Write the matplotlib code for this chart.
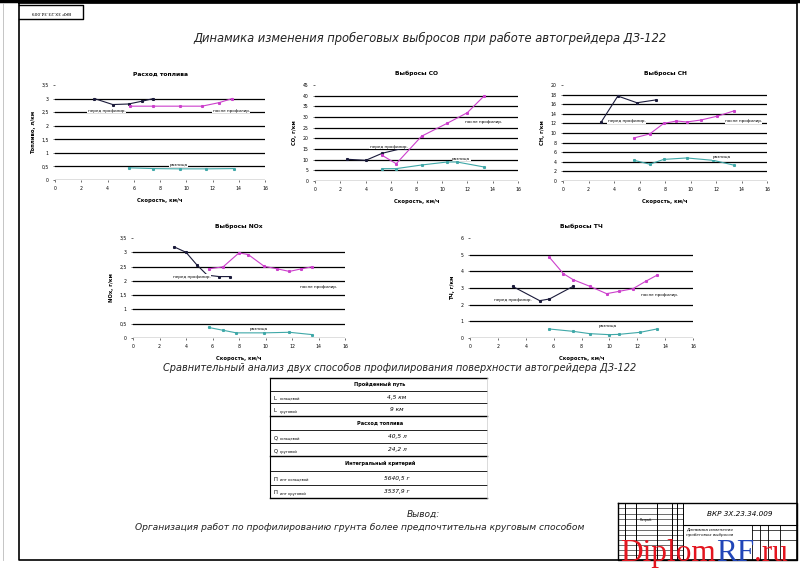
import matplotlib
matplotlib.use('Agg')
import matplotlib.pyplot as plt
import numpy as np

plt.rcParams['font.family'] = ['DejaVu Sans']

W, H = 800, 569

# --- данные графиков (скорость, км/ч) ---
speed_ticks = [0, 2, 4, 6, 8, 10, 12, 14, 16]

fuel_before_x = [3.0, 4.4, 5.6, 6.6, 7.5]
fuel_before_y = [3.0, 2.78, 2.8, 2.9, 3.0]
fuel_after_x = [5.7, 7.5, 9.5, 11.2, 12.5, 13.5]
fuel_after_y = [2.72, 2.72, 2.72, 2.72, 2.85, 3.0]
fuel_diff_x = [5.6, 7.5, 9.5, 11.5, 13.6]
fuel_diff_y = [0.45, 0.42, 0.41, 0.41, 0.42]
fuel_yticks = [0, 0.5, 1, 1.5, 2, 2.5, 3, 3.5]

co_before_x = [2.5, 4.0, 5.3, 7.1]
co_before_y = [10.2, 9.7, 13.0, 15.6]
co_after_x = [5.3, 6.4, 8.4, 10.4, 12.0, 13.3]
co_after_y = [12.0, 8.1, 21.0, 27.0, 32.0, 39.7]
co_diff_x = [5.3, 6.4, 8.4, 10.4, 11.2, 13.3]
co_diff_y = [5.8, 5.8, 7.5, 8.9, 8.9, 6.6]
co_yticks = [0, 5, 10, 15, 20, 25, 30, 35, 40, 45]

ch_before_x = [3.0, 4.3, 5.8, 7.3]
ch_before_y = [12.3, 17.7, 16.3, 16.9]
ch_after_x = [5.6, 6.8, 7.9, 8.9, 9.7, 10.8, 12.1, 13.4]
ch_after_y = [9.0, 9.8, 12.0, 12.5, 12.3, 12.7, 13.5, 14.6]
ch_diff_x = [5.6, 6.8, 7.9, 9.7, 11.8, 13.4]
ch_diff_y = [4.3, 3.5, 4.5, 4.8, 4.3, 3.3]
ch_yticks = [0, 2, 4, 6, 8, 10, 12, 14, 16, 18, 20]

nox_before_x = [3.1, 4.0, 4.8, 5.6, 6.5, 7.3]
nox_before_y = [3.19, 3.0, 2.57, 2.2, 2.15, 2.15]
nox_after_x = [5.7, 6.8, 8.0, 8.7, 9.9, 10.9, 11.8, 12.7, 13.5]
nox_after_y = [2.42, 2.49, 2.98, 2.92, 2.51, 2.42, 2.33, 2.42, 2.49]
nox_diff_x = [5.7, 6.8, 7.8, 9.9, 11.8, 13.5]
nox_diff_y = [0.37, 0.27, 0.18, 0.18, 0.2, 0.12]
nox_yticks = [0, 0.5, 1, 1.5, 2, 2.5, 3, 3.5]

pm_before_x = [3.05, 5.0, 5.7, 7.4]
pm_before_y = [3.1, 2.24, 2.34, 3.1]
pm_after_x = [5.7, 6.7, 7.4, 8.6, 9.8, 10.7, 11.7, 12.6, 13.4]
pm_after_y = [4.84, 3.86, 3.5, 3.1, 2.66, 2.8, 2.96, 3.4, 3.76]
pm_diff_x = [5.7, 7.4, 8.6, 10.0, 10.7, 12.2, 13.4]
pm_diff_y = [0.54, 0.4, 0.26, 0.2, 0.22, 0.34, 0.54]
pm_yticks = [0, 1, 2, 3, 4, 5, 6]

# --- таблица ---
tbl_rows = [
    ('h', 'Пройденный путь', '', ''),
    ('r', 'L', 'кольцевой', '4,5 км'),
    ('r', 'L', 'круговой', '9 км'),
    ('h', 'Расход топлива', '', ''),
    ('r', 'Q', 'кольцевой', '40,5 л'),
    ('r', 'Q', 'круговой', '24,2 л'),
    ('h', 'Интегральный критерий', '', ''),
    ('r', 'П', 'инт кольцевой', '5640,5 г'),
    ('r', 'П', 'инт круговой', '3537,9 г'),
]
tbl_lines = [378, 391, 403, 416, 430, 443, 456, 471, 485, 498]

C_BLACK = '#1a1a3a'
C_MAG = '#cc3fcc'
C_CYAN = '#3fa8a8'

fig = plt.figure(figsize=(W / 100, H / 100), dpi=100)
bg = fig.add_axes([0, 0, 1, 1])
bg.set_xlim(0, W)
bg.set_ylim(H, 0)
bg.axis('off')

# рамка листа
bg.plot([0, W], [1, 1], color='black', lw=2.5)
bg.plot([19, 797, 797, 19, 19], [3, 3, 560, 560, 3], color='black', lw=1.2)
bg.plot([3, 3], [3, 560], color='#bbbbbb', lw=0.6)
bg.plot([19, 83, 83, 19], [5, 5, 19, 19], color='black', lw=1.0)
bg.text(51, 12, 'ВКР 3Х.23.34.009', fontsize=3.2, ha='center', va='center', rotation=180)

bg.text(430, 38, 'Динамика изменения пробеговых выбросов при работе автогрейдера ДЗ-122',
        fontsize=8.3, style='italic', ha='center', va='center', color='#222222')
bg.text(400, 368, 'Сравнительный анализ двух способов профилирования поверхности автогрейдера ДЗ-122',
        fontsize=7.0, style='italic', ha='center', va='center', color='#222222')
bg.text(423, 514, 'Вывод:', fontsize=6.5, style='italic', ha='center', va='center', color='#222222')
bg.text(360, 528, 'Организация работ по профилированию грунта более предпочтительна круговым способом',
        fontsize=6.6, style='italic', ha='center', va='center', color='#222222')


def chart(box, title, ylabel, yticks, series, labels):
    x0, x1, y0, y1 = box
    ax = fig.add_axes([x0 / W, 1 - y1 / H, (x1 - x0) / W, (y1 - y0) / H])
    ax.set_xlim(0, 16)
    ax.set_ylim(yticks[0], yticks[-1])
    for v in yticks[:-1]:
        ax.axhline(v, color='black', lw=0.9, zorder=1)
    for s in ax.spines.values():
        s.set_visible(False)
    ax.set_xticks(speed_ticks)
    ax.set_xticklabels([str(t) for t in speed_ticks])
    ax.set_yticks(yticks)
    ax.set_yticklabels([f'{v:g}'.replace('.', ',') for v in yticks])
    ax.tick_params(labelsize=3.3, length=1.5, width=0.4, pad=3)
    ax.set_title(title, fontsize=4.3, fontweight='bold', pad=7)
    ax.set_xlabel('Скорость, км/ч', fontsize=3.8, fontweight='bold', labelpad=5)
    ax.set_ylabel(ylabel, fontsize=3.8, fontweight='bold', labelpad=4)
    for (xs, ys), c in zip(series, [C_BLACK, C_MAG, C_CYAN]):
        ax.plot(xs, ys, color=c, lw=0.8, marker='s', ms=1.2, zorder=3)
    for (tx, ty, txt) in labels:
        ax.text(tx, ty, txt, fontsize=3.0, ha='left', va='center', zorder=4,
                bbox=dict(facecolor='white', edgecolor='none', pad=0.3))
    return ax


chart((55, 265, 85, 180), 'Расход топлива', 'Топливо, л/км', fuel_yticks,
      [(fuel_before_x, fuel_before_y), (fuel_after_x, fuel_after_y), (fuel_diff_x, fuel_diff_y)],
      [(2.5, 2.55, 'перед профилир.'), (12.0, 2.55, 'после профилир.'), (8.7, 0.55, 'разница')])

chart((315, 518, 85, 181), 'Выбросы СО', 'СО, г/км', co_yticks,
      [(co_before_x, co_before_y), (co_after_x, co_after_y), (co_diff_x, co_diff_y)],
      [(4.3, 16.0, 'перед профилир.'), (11.8, 27.5, 'после профилир.'), (10.8, 10.3, 'разница')])

chart((563, 767, 85, 181), 'Выбросы СН', 'СН, г/км', ch_yticks,
      [(ch_before_x, ch_before_y), (ch_after_x, ch_after_y), (ch_diff_x, ch_diff_y)],
      [(3.5, 12.4, 'перед профилир.'), (12.7, 12.4, 'после профилир.'), (11.7, 4.9, 'разница')])

chart((133, 345, 238, 338), 'Выбросы NOx', 'NOx, г/км', nox_yticks,
      [(nox_before_x, nox_before_y), (nox_after_x, nox_after_y), (nox_diff_x, nox_diff_y)],
      [(3.0, 2.15, 'перед профилир.'), (12.6, 1.8, 'после профилир.'), (8.8, 0.33, 'разница')])

chart((470, 693, 238, 338), 'Выбросы ТЧ', 'ТЧ, г/км', pm_yticks,
      [(pm_before_x, pm_before_y), (pm_after_x, pm_after_y), (pm_diff_x, pm_diff_y)],
      [(1.7, 2.3, 'перед профилир.'), (12.3, 2.6, 'после профилир.'), (9.2, 0.7, 'разница')])

# таблица сравнения
tl, tr = 270, 487
for i, yl in enumerate(tbl_lines):
    lw = 1.0 if i in (0, 3, 6, 9) else 0.6
    bg.plot([tl, tr], [yl, yl], color='black', lw=lw)
bg.plot([tl, tl], [tbl_lines[0], tbl_lines[-1]], color='black', lw=0.8)
bg.plot([tr, tr], [tbl_lines[0], tbl_lines[-1]], color='#cccccc', lw=0.5)
for (kind, a, sub, val), ya, yb in zip(tbl_rows, tbl_lines[:-1], tbl_lines[1:]):
    ym = (ya + yb) / 2
    if kind == 'h':
        bg.text(380, ym, a, fontsize=3.6, fontweight='bold', ha='center', va='center')
    else:
        bg.text(274, ym + 1, a, fontsize=3.8, ha='left', va='center')
        bg.text(280, ym + 2.5, sub, fontsize=2.6, ha='left', va='center')
        bg.text(397, ym, val, fontsize=4.2, style='italic', ha='center', va='center')

# основная надпись
bx0, bx1, by0, by1 = 618, 797, 503, 560
bg.plot([bx0, bx1, bx1, bx0, bx0], [by0, by0, by1, by1, by0], color='black', lw=1.0)
bg.plot([683, bx1], [525, 525], color='black', lw=0.8)
for xv in [625, 636, 657, 672, 677, 683]:
    bg.plot([xv, xv], [by0, by1], color='black', lw=0.7)
for yv in [508, 514, 519, 525, 530, 535, 540, 545, 550, 555]:
    bg.plot([bx0, 683], [yv, yv], color='black', lw=0.4)
for xv in [752, 760, 768, 780]:
    bg.plot([xv, xv], [525, by1], color='black', lw=0.6)
bg.plot([752, bx1], [530, 530], color='black', lw=0.5)
bg.plot([752, bx1], [540, 540], color='black', lw=0.5)
bg.text(740, 514, 'ВКР 3Х.23.34.009', fontsize=5.2, style='italic', ha='center', va='center')
bg.text(686, 529, 'Динамика изменения', fontsize=3.0, style='italic', ha='left', va='center')
bg.text(686, 535, 'пробеговых выбросов', fontsize=3.0, style='italic', ha='left', va='center')
bg.text(640, 520, 'Разраб.', fontsize=2.4, ha='left', va='center')

# водяной знак: части подряд, по ширине предыдущей
renderer = fig.canvas.get_renderer()
wm_x = 620
for part, col in [('Diplom', '#e3151f'), ('RF', '#2146b8'), ('.ru', '#e3151f')]:
    t = bg.text(wm_x, 561, part, fontsize=22.5, family='Liberation Serif', color=col,
                ha='left', va='baseline', zorder=10)
    ext = t.get_window_extent(renderer)
    wm_x += ext.width

fig.savefig('out.png', dpi=100)
